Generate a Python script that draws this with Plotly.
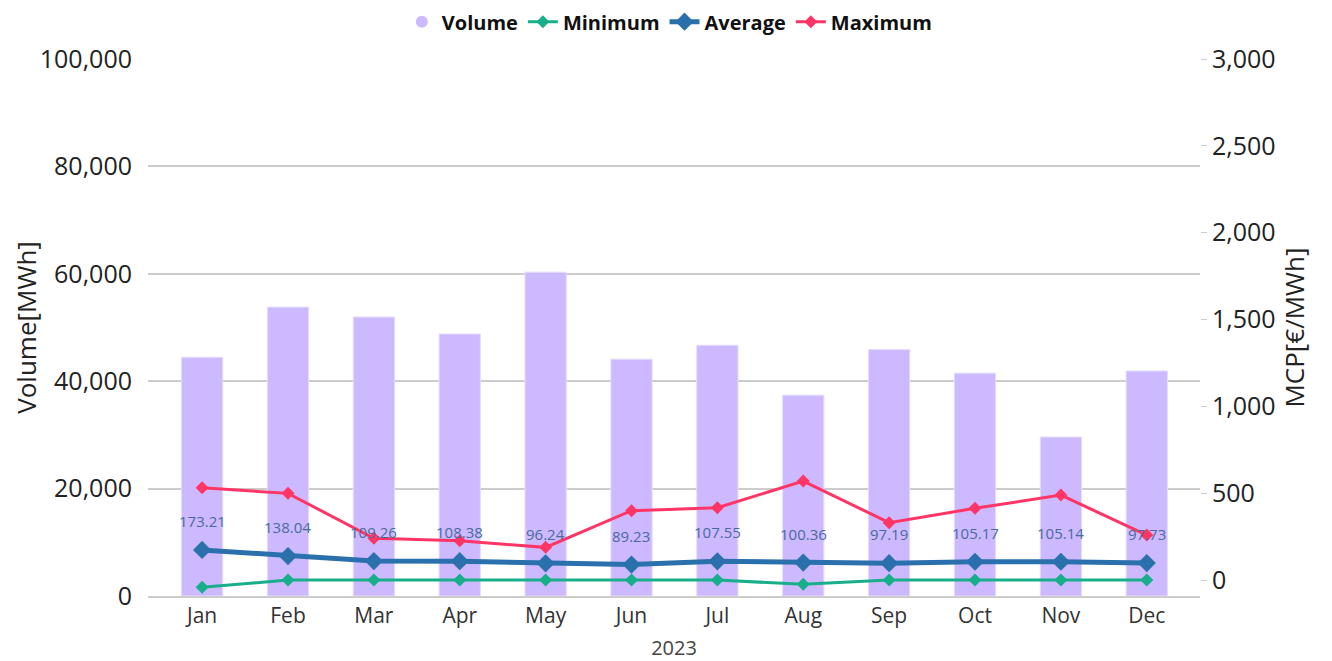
import plotly.graph_objects as go

months = ["Jan", "Feb", "Mar", "Apr", "May", "Jun", "Jul", "Aug", "Sep", "Oct", "Nov", "Dec"]
volume = [44450, 53800, 51950, 48800, 60300, 44100, 46700, 37400, 45900, 41500, 29600, 41900]
minimum = [-42, 0, 0, 0, 0, 0, 0, -25, 0, 0, 0, 0]
average = [173.21, 138.04, 109.26, 108.38, 96.24, 89.23, 107.55, 100.36, 97.19, 105.17, 105.14, 97.73]
maximum = [531, 499, 240, 226, 188, 399, 416, 570, 330, 413, 489, 259]

FONT = "Open Sans, Noto Sans, sans-serif"
fig = go.Figure()

fig.add_trace(go.Bar(x=months, y=volume, name="Volume", marker=dict(color="#cdb9ff", line=dict(color="#e4dbff", width=1)),
                     showlegend=False, yaxis="y"))
fig.add_trace(go.Scatter(x=[None], y=[None], mode="markers", name="Volume",
                         marker=dict(symbol="circle", size=12, color="#cdb9ff")))
fig.add_trace(go.Scatter(x=months, y=minimum, name="Minimum", mode="lines+markers", yaxis="y2",
                         line=dict(color="#19ae8a", width=3), marker=dict(symbol="diamond", size=10)))
fig.add_trace(go.Scatter(x=months, y=average, name="Average", mode="lines+markers", yaxis="y2",
                         line=dict(color="#2a70ad", width=5), marker=dict(symbol="diamond", size=14)))
fig.add_trace(go.Scatter(x=months, y=maximum, name="Maximum", mode="lines+markers", yaxis="y2",
                         line=dict(color="#ff3565", width=3), marker=dict(symbol="diamond", size=10)))

for m, a in zip(months, average):
    fig.add_annotation(x=m, y=a, xref="x", yref="y2", text=f"{a:.2f}", showarrow=False, yshift=29,
                       font=dict(family=FONT, size=15, color="#4a6a9e"))

fig.update_layout(
    width=1324, height=653,
    margin=dict(l=140, r=132, t=51, b=65, autoexpand=False),
    paper_bgcolor="white", plot_bgcolor="white",
    font=dict(family=FONT, color="#222"),
    bargap=0.52,
    legend=dict(orientation="h", x=0.496, xanchor="center", y=0.979, yanchor="middle", yref="container",
                font=dict(size=20, color="#111", weight="bold"), itemwidth=30, tracegroupgap=0),
    xaxis=dict(range=[-0.63, 11.62], showgrid=False, showline=True, linecolor="#cccccc", linewidth=2,
               tickfont=dict(size=21, color="#333"), ticks="", automargin=False,
               title=dict(text="2023", font=dict(size=20, color="#444"), standoff=15)),
    yaxis=dict(range=[0, 100000], tickvals=[0, 20000, 40000, 60000, 80000, 100000], tickformat=",",
               showgrid=True, gridcolor="#cccccc", gridwidth=2, zeroline=False, automargin=False,
               tickfont=dict(size=25, color="#222"), ticks="outside", ticklen=10, tickcolor="rgba(0,0,0,0)",
               title=dict(text="Volume[MWh]", font=dict(size=26, color="#222"), standoff=8)),
    yaxis2=dict(range=[-92, 3000], overlaying="y", side="right", tickvals=[0, 500, 1000, 1500, 2000, 2500, 3000],
                tickformat=",", showgrid=False, zeroline=False, ticks="outside", ticklen=6, tickcolor="#cccccc",
                tickfont=dict(size=25, color="#222"), automargin=False,
                title=dict(text="MCP[€/MWh]", font=dict(size=26, color="#222"), standoff=8)),
)
fig.write_html("out.html")
